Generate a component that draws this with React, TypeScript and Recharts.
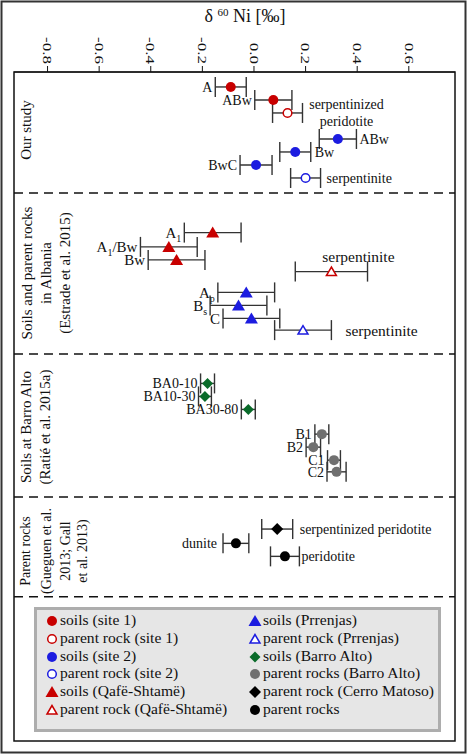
import React from 'react'
import { ScatterChart, Scatter, XAxis, YAxis, ErrorBar, ReferenceLine } from 'recharts'

type Pt = { name: string; value: number; err: number; row: number }

/* δ60Ni (‰) ± error, row = vertical slot (top → bottom) */
const SITE1_SOILS: Pt[] = [
  { name: 'A', value: -0.09, err: 0.06, row: 1 },
  { name: 'ABw', value: 0.075, err: 0.072, row: 2 },
]
const SITE1_ROCK: Pt[] = [{ name: 'serpentinized|peridotite', value: 0.13, err: 0.058, row: 3 }]
const SITE2_SOILS: Pt[] = [
  { name: 'ABw', value: 0.325, err: 0.072, row: 5 },
  { name: 'Bw', value: 0.16, err: 0.06, row: 6 },
  { name: 'BwC', value: 0.008, err: 0.062, row: 7 },
]
const SITE2_ROCK: Pt[] = [{ name: 'serpentinite', value: 0.2, err: 0.058, row: 8 }]
const QAFE_SOILS: Pt[] = [
  { name: 'A_{1}', value: -0.16, err: 0.11, row: 12.2 },
  { name: 'A_{1}/Bw', value: -0.33, err: 0.11, row: 13.3 },
  { name: 'Bw', value: -0.3, err: 0.11, row: 14.3 },
]
const QAFE_ROCK: Pt[] = [{ name: 'serpentinite', value: 0.3, err: 0.14, row: 15.2 }]
const PRRENJAS_SOILS: Pt[] = [
  { name: 'A_{p}', value: -0.03, err: 0.11, row: 16.8 },
  { name: 'B_{s}', value: -0.06, err: 0.11, row: 17.8 },
  { name: 'C', value: -0.01, err: 0.11, row: 18.8 },
]
const PRRENJAS_ROCK: Pt[] = [{ name: 'serpentinite', value: 0.19, err: 0.11, row: 19.7 }]
const BA_SOILS: Pt[] = [
  { name: 'BA0-10', value: -0.18, err: 0.027, row: 23.8 },
  { name: 'BA10-30', value: -0.19, err: 0.025, row: 24.8 },
  { name: 'BA30-80', value: -0.022, err: 0.027, row: 25.8 },
]
const BA_ROCKS: Pt[] = [
  { name: 'B1', value: 0.263, err: 0.027, row: 27.7 },
  { name: 'B2', value: 0.23, err: 0.028, row: 28.7 },
  { name: 'C1', value: 0.31, err: 0.025, row: 29.7 },
  { name: 'C2', value: 0.32, err: 0.037, row: 30.6 },
]
const CERRO_ROCK: Pt[] = [{ name: 'serpentinized peridotite', value: 0.09, err: 0.06, row: 35 }]
const PARENT_ROCKS: Pt[] = [
  { name: 'dunite', value: -0.07, err: 0.05, row: 36.1 },
  { name: 'peridotite', value: 0.12, err: 0.056, row: 37.1 },
]

const X_TICKS = [-0.8, -0.6, -0.4, -0.2, 0, 0.2, 0.4, 0.6]
const X_DOMAIN: [number, number] = [-0.93, 0.779]
const Y_DOMAIN: [number, number] = [-0.15, 51.3]
const GROUP_BREAKS = [9.15, 21.54, 32.54, 40.2]

const RED = '#c80000'
const BLUE = '#1c1ce0'
const GREEN = '#0a6b2a'
const GREY = '#707070'
const BLACK = '#000'
const SERIF = '"Liberation Serif", "Times New Roman", serif'

const W = 468
const H = 754
const M = { top: 32, right: 13, bottom: 13, left: 14 }
const AXIS_H = 40
const PX = (W - M.left - M.right) / (X_DOMAIN[1] - X_DOMAIN[0])

type Kind = 'dot' | 'ring' | 'tri' | 'triOpen' | 'diamond'

const SERIES: { key: string; data: Pt[]; kind: Kind; color: string; legend: string; size?: number; font?: number }[] = [
  { key: 's1', data: SITE1_SOILS, kind: 'dot', color: RED, legend: 'soils (site 1)' },
  { key: 'r1', data: SITE1_ROCK, kind: 'ring', color: RED, legend: 'parent rock (site 1)' },
  { key: 's2', data: SITE2_SOILS, kind: 'dot', color: BLUE, legend: 'soils (site 2)' },
  { key: 'r2', data: SITE2_ROCK, kind: 'ring', color: BLUE, legend: 'parent rock (site 2)' },
  { key: 'qs', data: QAFE_SOILS, kind: 'tri', color: RED, legend: 'soils (Qafë-Shtamë)', font: 15 },
  { key: 'qr', data: QAFE_ROCK, kind: 'triOpen', color: RED, legend: 'parent rock (Qafë-Shtamë)', font: 15.5 },
  { key: 'ps', data: PRRENJAS_SOILS, kind: 'tri', color: BLUE, legend: 'soils (Prrenjas)', font: 15 },
  { key: 'pr', data: PRRENJAS_ROCK, kind: 'triOpen', color: BLUE, legend: 'parent rock (Prrenjas)', font: 15.5 },
  { key: 'bs', data: BA_SOILS, kind: 'diamond', color: GREEN, legend: 'soils (Barro Alto)', size: 5.5 },
  { key: 'br', data: BA_ROCKS, kind: 'dot', color: GREY, legend: 'parent rocks (Barro Alto)' },
  { key: 'cm', data: CERRO_ROCK, kind: 'diamond', color: BLACK, legend: 'parent rock (Cerro Matoso)', size: 6 },
  { key: 'pp', data: PARENT_ROCKS, kind: 'dot', color: BLACK, legend: 'parent rocks' },
]

/* where each point's text goes; default is left of the error bar */
const LABEL_PLACE: Record<string, { side: 'left' | 'right' | 'free'; gap?: number; dx?: number; dy?: number }> = {
  'r1:serpentinized|peridotite': { side: 'free', dx: 59, dy: -9 },
  's2:ABw': { side: 'right', gap: 3 },
  's2:Bw': { side: 'right', gap: 4 },
  'r2:serpentinite': { side: 'right', gap: 6 },
  'qr:serpentinite': { side: 'free', dx: 27, dy: -15 },
  'pr:serpentinite': { side: 'right', gap: 14 },
  'cm:serpentinized peridotite': { side: 'right', gap: 7 },
  'pp:dunite': { side: 'left', gap: 6 },
  'pp:peridotite': { side: 'right', gap: 2 },
}

function Marker({ kind, color, cx, cy, size }: { kind: Kind; color: string; cx: number; cy: number; size?: number }) {
  switch (kind) {
    case 'dot':
      return <circle cx={cx} cy={cy} r={5} fill={color} />
    case 'ring':
      return <circle cx={cx} cy={cy} r={4.3} fill="#fff" stroke={color} strokeWidth={1.5} />
    case 'tri':
      return <polygon points={`${cx},${cy - 6} ${cx - 6.5},${cy + 5} ${cx + 6.5},${cy + 5}`} fill={color} />
    case 'triOpen':
      return (
        <polygon
          points={`${cx},${cy - 4.5} ${cx - 5},${cy + 4} ${cx + 5},${cy + 4}`}
          fill="#fff"
          stroke={color}
          strokeWidth={1.5}
        />
      )
    case 'diamond': {
      const s = size ?? 5.5
      return <polygon points={`${cx},${cy - s} ${cx + s},${cy} ${cx},${cy + s} ${cx - s},${cy}`} fill={color} />
    }
  }
}

// "A_{1}/Bw" -> A with subscript 1 then /Bw
function RichText({ text }: { text: string }) {
  const parts = text.split(/(_\{[^}]*\})/).filter(Boolean)
  let shifted = false
  return (
    <>
      {parts.map((p, i) => {
        if (p.startsWith('_{')) {
          shifted = true
          return (
            <tspan key={i} dy={4} fontSize={10}>
              {p.slice(2, -1)}
            </tspan>
          )
        }
        const dy = shifted ? -4 : undefined
        shifted = false
        return (
          <tspan key={i} dy={dy}>
            {p}
          </tspan>
        )
      })}
    </>
  )
}

function PointLabel({ sk, p, cx, cy, font }: { sk: string; p: Pt; cx: number; cy: number; font: number }) {
  const place = LABEL_PLACE[`${sk}:${p.name}`] ?? { side: 'left' as const }
  const common = { fontFamily: SERIF, fontSize: font, fill: '#111' }
  if (place.side === 'free') {
    const lines = p.name.split('|')
    return (
      <text x={cx + (place.dx ?? 0)} y={cy + (place.dy ?? 0)} textAnchor="middle" {...common}>
        {lines.map((l, i) => (
          <tspan key={i} x={cx + (place.dx ?? 0)} dy={i === 0 ? '0.35em' : 17}>
            {l}
          </tspan>
        ))}
      </text>
    )
  }
  const gap = place.gap ?? 3
  const off = p.err * PX + gap
  const x = place.side === 'left' ? cx - off : cx + off
  return (
    <text x={x} y={cy} dy="0.35em" textAnchor={place.side === 'left' ? 'end' : 'start'} {...common}>
      <RichText text={p.name} />
    </text>
  )
}

const XTick = (props: any) => {
  const { x, y, payload } = props
  return (
    <g transform={`translate(${x},${y}) rotate(90) scale(1,0.72)`}>
      <text textAnchor="end" dy="0.35em" fontSize={17} fontFamily={SERIF} fill="#111">
        {Number(payload.value).toFixed(1)}
      </text>
    </g>
  )
}

const SECTION_LABELS = [
  { lines: ['Our study'], xs: [26], cy: 130, size: 15 },
  { lines: ['Soils and parent rocks', 'in Albania', '(Estrade et al. 2015)'], xs: [27, 46, 65], cy: 273, size: 15 },
  { lines: ['Soils at Barro Alto', '(Ratié et al. 2015a)'], xs: [26, 45], cy: 427, size: 15 },
  { lines: ['Parent rocks', '(Gueguen et al.', '2013; Gall', 'et al. 2013)'], xs: [25, 46, 65, 82], cy: 551, size: 14 },
]

function Overlay() {
  const top = M.top + AXIS_H
  const left = M.left
  const right = W - M.right
  const bottom = H - M.bottom
  const rowsY = [620, 638, 656, 673, 691, 709]
  return (
    <svg width={W} height={H} style={{ position: 'absolute', left: 0, top: 0, pointerEvents: 'none' }}>
      <rect x={1.5} y={1.5} width={W - 4} height={H - 3} fill="none" stroke="#333" strokeWidth={2} />
      <rect x={left} y={top} width={right - left} height={bottom - top} fill="none" stroke="#111" strokeWidth={1.5} />
      <text x={245} y={22} textAnchor="middle" fontFamily={SERIF} fontSize={18} fill="#111">
        δ <tspan fontSize={11} dy={-6}>60</tspan>
        <tspan dy={6}> Ni [‰]</tspan>
      </text>
      {SECTION_LABELS.map((s, i) =>
        s.lines.map((l, j) => (
          <text
            key={`${i}-${j}`}
            x={s.xs[j]}
            y={s.cy}
            transform={`rotate(-90 ${s.xs[j]} ${s.cy})`}
            textAnchor="middle"
            dy="0.35em"
            fontFamily={SERIF}
            fontSize={s.size}
            fill="#111"
          >
            {l}
          </text>
        ))
      )}
      <rect x={35.5} y={608.5} width={404} height={122} fill="#e6e6e6" stroke="#adadad" strokeWidth={3} />
      {SERIES.map((s, i) => {
        const col = i < 6 ? 0 : 1
        const cy = rowsY[i % 6]
        const mx = col === 0 ? 52 : 255
        const tx = col === 0 ? 60 : 263
        return (
          <g key={s.key}>
            <Marker kind={s.kind} color={s.color} cx={mx} cy={cy + 1} size={s.size} />
            <text x={tx} y={cy} dy="0.35em" fontFamily={SERIF} fontSize={15.6} fill="#111">
              {s.legend}
            </text>
          </g>
        )
      })}
    </svg>
  )
}

export default function App() {
  return (
    <div style={{ position: 'absolute', left: 0, top: 0, width: W, height: H, background: '#fff', fontFamily: SERIF }}>
      <ScatterChart width={W} height={H} margin={M}>
        <XAxis
          type="number"
          dataKey="value"
          orientation="top"
          domain={X_DOMAIN}
          ticks={X_TICKS}
          allowDataOverflow
          height={AXIS_H}
          tickSize={6}
          tickMargin={2}
          tick={XTick}
          axisLine={{ stroke: '#111' }}
          tickLine={{ stroke: '#111' }}
        />
        <YAxis type="number" dataKey="row" domain={Y_DOMAIN} reversed hide allowDataOverflow />
        {GROUP_BREAKS.map(y => (
          <ReferenceLine key={y} y={y} stroke="#111" strokeWidth={1.5} strokeDasharray="9 6" />
        ))}
        {/* first pass: error bars only */}
        {SERIES.map(s => (
          <Scatter key={`e-${s.key}`} data={s.data} isAnimationActive={false} shape={() => <g />}>
            <ErrorBar dataKey="err" direction="x" width={10} stroke="#333" strokeWidth={1.4} isAnimationActive={false} />
          </Scatter>
        ))}
        {/* second pass: markers and labels on top */}
        {SERIES.map(s => (
          <Scatter
            key={s.key}
            data={s.data}
            isAnimationActive={false}
            shape={(p: any) => (
              <g>
                <Marker kind={s.kind} color={s.color} cx={p.cx} cy={p.cy} size={s.size} />
                <PointLabel sk={s.key} p={p.payload} cx={p.cx} cy={p.cy} font={s.font ?? 14} />
              </g>
            )}
          />
        ))}
      </ScatterChart>
      <Overlay />
    </div>
  )
}
